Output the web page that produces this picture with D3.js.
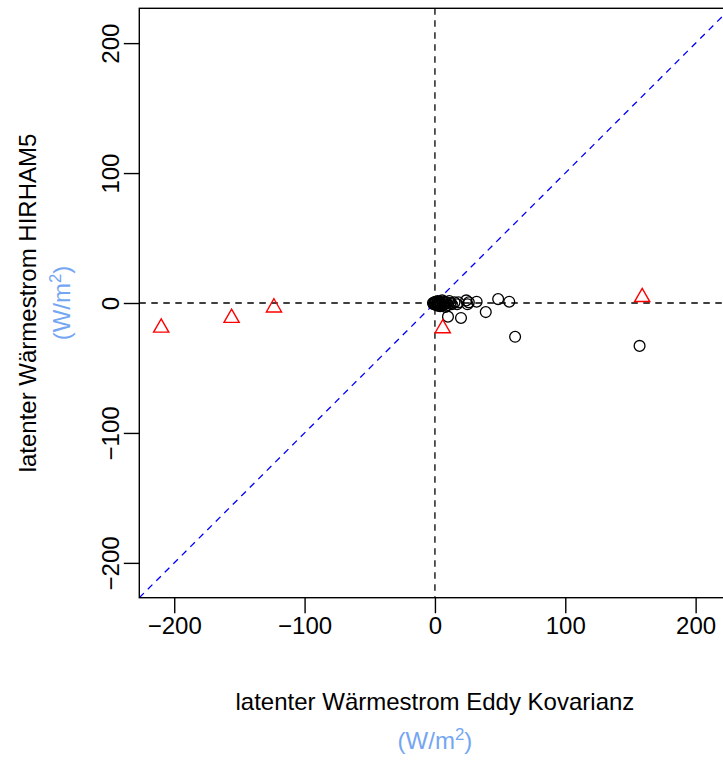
<!DOCTYPE html>
<html>
<head>
<meta charset="utf-8">
<script src="https://cdn.jsdelivr.net/npm/d3@7"></script>
<style>
  html, body { margin: 0; padding: 0; background: #fff; }
  svg { display: block; font-family: "Liberation Sans", Arial, sans-serif; }
</style>
</head>
<body>
<svg id="chart" width="723" height="760"></svg>
<script>
// ---- data (W/m²) ----
const circleEddy   = [-1.5, -1, -0.5, 0, 0.5, 1, 1.5, 2, 2, 2.5, 3, 3.5, 4, 4, 4.5, 5, 5.5, 6, 6.5, 7, 8, 8, 9, 10, 11, 12, 13, 15, 17, 18, 24, 25, 26, 32, 39, 48.5, 57, 61.5, 10, 20, 157];
const circleHirham = [0, -1, 0.5, -0.5, 1, -1.5, 0, 1.5, -2, -0.5, 0.5, -1, 1, -2.5, 0, -1, 2, -2, 0.5, -1, 1, -3, 0, -1.5, 1.5, 0, -1, 0.5, -1, 0.5, 2, -1, 0.5, 1, -7, 3, 1, -26, -10.5, -11.5, -33];
const triEddy   = [-210, -156, -123.5, 159, 6];
const triHirham = [-19, -11.5, -3.5, 4.5, -19.5];
const tickValues = [-200, -100, 0, 100, 200];
const xTitle = "latenter Wärmestrom Eddy Kovarianz";
const yTitle = "latenter Wärmestrom HIRHAM5";

const svg = d3.select("#chart");
const plotLeft = 139.3, plotTop = 8.3, plotBottom = 597.7;
const lim = 226.8;
const x = d3.scaleLinear().domain([-lim, lim]).range([plotLeft, plotLeft + 2 * lim * 1.3035]);
const y = d3.scaleLinear().domain([-lim, lim]).range([plotBottom, plotTop]);
const fmt = d => d3.format("d")(d).replace("-", "\u2212");

const fs = 24;
const unitColor = "#74a6f2";

// clip
svg.append("defs").append("clipPath").attr("id", "plotclip")
  .append("rect").attr("x", x(-lim)).attr("y", y(lim))
  .attr("width", x(lim) - x(-lim)).attr("height", y(-lim) - y(lim));

const plot = svg.append("g").attr("clip-path", "url(#plotclip)");

// reference lines
plot.append("line").attr("x1", x(0)).attr("x2", x(0)).attr("y1", y(lim)).attr("y2", y(-lim))
  .attr("stroke", "#000").attr("stroke-width", 1.3).attr("stroke-dasharray", "6.5,5.5");
plot.append("line").attr("x1", x(-lim)).attr("x2", x(lim)).attr("y1", y(0)).attr("y2", y(0))
  .attr("stroke", "#000").attr("stroke-width", 1.3).attr("stroke-dasharray", "6.5,5.5");
plot.append("line").attr("x1", x(-lim)).attr("x2", x(lim)).attr("y1", y(-lim)).attr("y2", y(lim))
  .attr("stroke", "#0000ff").attr("stroke-width", 1.3).attr("stroke-dasharray", "6.5,5.5");

// circles
plot.append("g").selectAll("circle").data(circleEddy.map((v, i) => [v, circleHirham[i]]))
  .join("circle")
  .attr("cx", d => x(d[0])).attr("cy", d => y(d[1])).attr("r", 5.4)
  .attr("fill", "none").attr("stroke", "#000").attr("stroke-width", 1.3);

// triangles
const tri = d3.symbol().type(d3.symbolTriangle).size(100);
plot.append("g").selectAll("path").data(triEddy.map((v, i) => [v, triHirham[i]]))
  .join("path")
  .attr("d", tri)
  .attr("transform", d => `translate(${x(d[0])},${y(d[1])})`)
  .attr("fill", "none").attr("stroke", "#ff0000").attr("stroke-width", 1.4);

// box
svg.append("rect").attr("x", x(-lim)).attr("y", y(lim))
  .attr("width", x(lim) - x(-lim)).attr("height", y(-lim) - y(lim))
  .attr("fill", "none").attr("stroke", "#000").attr("stroke-width", 1.4);

// axes
const xAxis = svg.append("g").attr("transform", `translate(0,${plotBottom})`)
  .call(d3.axisBottom(x).tickValues(tickValues).tickFormat(fmt).tickSize(15.5).tickPadding(4));
xAxis.select(".domain").remove();
xAxis.selectAll("line").attr("stroke-width", 1.4);
xAxis.selectAll("text").attr("font-size", fs).attr("font-family", "Liberation Sans, Arial, sans-serif").attr("fill", "#000");

const yAxis = svg.append("g").attr("transform", `translate(${plotLeft},0)`)
  .call(d3.axisLeft(y).tickValues(tickValues).tickFormat(fmt).tickSize(15.5));
yAxis.select(".domain").remove();
yAxis.selectAll("line").attr("stroke-width", 1.4);
yAxis.selectAll("text")
  .attr("x", null).attr("dy", null)
  .attr("font-size", fs).attr("font-family", "Liberation Sans, Arial, sans-serif").attr("fill", "#000")
  .attr("text-anchor", "middle")
  .attr("transform", "translate(-20,0) rotate(-90)");

// titles
const cx = (x(-lim) + x(lim)) / 2;
const cy = (y(-lim) + y(lim)) / 2;
svg.append("text").attr("x", cx).attr("y", 710).attr("text-anchor", "middle")
  .attr("font-size", fs).attr("fill", "#000").text(xTitle);
const ux = svg.append("text").attr("x", cx).attr("y", 749).attr("text-anchor", "middle")
  .attr("font-size", fs).attr("fill", unitColor);
ux.append("tspan").text("(W/m");
ux.append("tspan").attr("font-size", fs * 0.7).attr("dy", -9).text("2");
ux.append("tspan").attr("dy", 9).text(")");

svg.append("text").attr("transform", `translate(36,${cy}) rotate(-90)`).attr("text-anchor", "middle")
  .attr("font-size", fs).attr("fill", "#000").text(yTitle);
const uy = svg.append("text").attr("transform", `translate(70,${cy}) rotate(-90)`).attr("text-anchor", "middle")
  .attr("font-size", fs).attr("fill", unitColor);
uy.append("tspan").text("(W/m");
uy.append("tspan").attr("font-size", fs * 0.7).attr("dy", -9).text("2");
uy.append("tspan").attr("dy", 9).text(")");
</script>
</body>
</html>
